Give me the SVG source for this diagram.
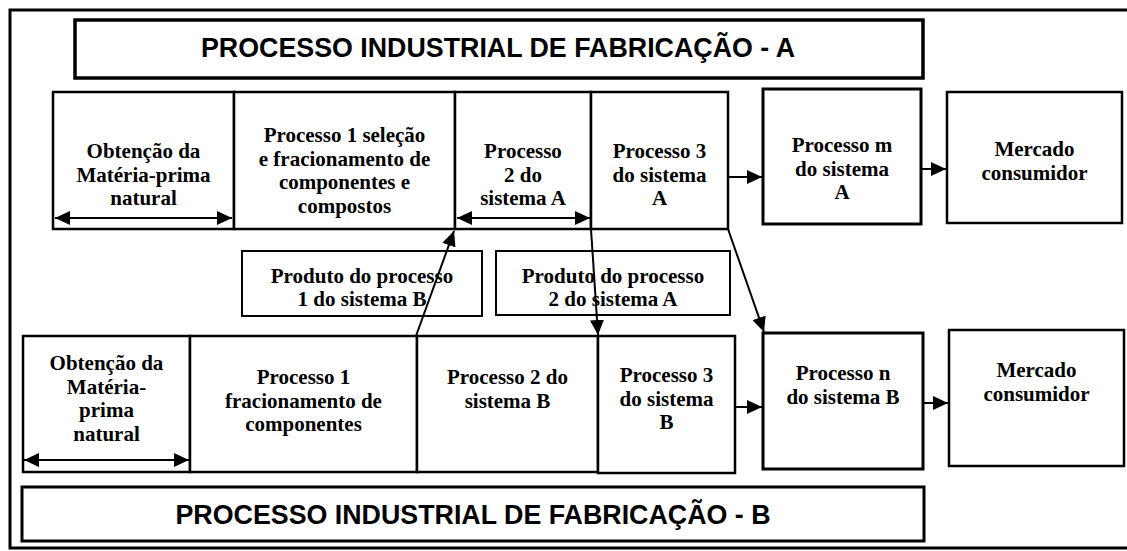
<svg xmlns="http://www.w3.org/2000/svg" width="1127" height="551" viewBox="0 0 1127 551">
<style>
  .bx { fill: #fff; stroke: #000; stroke-width: 2.5; }
  .pb { fill: #fff; stroke: #000; stroke-width: 2; }
  .tb { fill: #fff; stroke: #000; stroke-width: 3.5; }
  .n { font-family: "Liberation Serif", "Times New Roman", serif; font-weight: bold; font-size: 21px; text-anchor: middle; fill: #000; }
  .t { font-family: "Liberation Sans", Arial, sans-serif; font-weight: bold; font-size: 26.8px; text-anchor: middle; fill: #000; }
  .c { fill: none; stroke: #000; stroke-width: 2; }
</style>
<defs>
  <marker id="ah" viewBox="0 0 15 14" refX="15" refY="7" markerWidth="15" markerHeight="14" markerUnits="userSpaceOnUse" orient="auto-start-reverse">
    <path d="M0,0 L15,7 L0,14 z" fill="#000"/>
  </marker>
</defs>
<rect x="0" y="0" width="1127" height="551" fill="#fff"/>
<rect id="frame" x="10" y="10" width="1125" height="538" fill="none" stroke="#000" stroke-width="3"/>

<g id="titleA">
  <rect class="tb" x="75" y="20" width="848" height="58"/>
  <text class="t" x="498" y="57">PROCESSO INDUSTRIAL DE FABRICAÇÃO - A</text>
</g>
<g id="titleB">
  <rect class="tb" x="22" y="487" width="902" height="54" style="stroke-width:3"/>
  <text class="t" x="473" y="524">PROCESSO INDUSTRIAL DE FABRICAÇÃO - B</text>
</g>

<g id="a-obtencao">
  <rect class="bx" x="53" y="92" width="181" height="137"/>
  <text class="n"><tspan x="143.5" y="158">Obtenção da</tspan><tspan x="143.5" y="181.5">Matéria-prima</tspan><tspan x="143.5" y="205">natural</tspan></text>
</g>
<g id="a-processo1">
  <rect class="bx" x="234" y="92" width="221" height="137"/>
  <text class="n"><tspan x="344.5" y="142">Processo 1 seleção</tspan><tspan x="344.5" y="165.5">e fracionamento de</tspan><tspan x="344.5" y="189">componentes e</tspan><tspan x="344.5" y="212.5">compostos</tspan></text>
</g>
<g id="a-processo2">
  <rect class="bx" x="455" y="92" width="136" height="137"/>
  <text class="n"><tspan x="523" y="158">Processo</tspan><tspan x="523" y="181.5">2 do</tspan><tspan x="523" y="205">sistema A</tspan></text>
</g>
<g id="a-processo3">
  <rect class="bx" x="591" y="92" width="137" height="137"/>
  <text class="n"><tspan x="659.5" y="158">Processo 3</tspan><tspan x="659.5" y="181.5">do sistema</tspan><tspan x="659.5" y="205">A</tspan></text>
</g>
<g id="a-processom">
  <rect class="bx" x="763" y="89" width="158" height="135" style="stroke-width:3"/>
  <text class="n"><tspan x="842" y="152">Processo m</tspan><tspan x="842" y="175.5">do sistema</tspan><tspan x="842" y="199">A</tspan></text>
</g>
<g id="a-mercado">
  <rect class="bx" x="947" y="92" width="175" height="131"/>
  <text class="n"><tspan x="1034.5" y="156">Mercado</tspan><tspan x="1034.5" y="179.5">consumidor</tspan></text>
</g>

<g id="produto1">
  <rect class="pb" x="242" y="251" width="240" height="65"/>
  <text class="n"><tspan x="362" y="283">Produto do processo</tspan><tspan x="362" y="306">1 do sistema B</tspan></text>
</g>
<g id="produto2">
  <rect class="pb" x="496" y="251" width="234" height="64"/>
  <text class="n"><tspan x="613" y="283">Produto do processo</tspan><tspan x="613" y="306">2 do sistema A</tspan></text>
</g>

<g id="b-obtencao">
  <rect class="bx" x="23" y="336" width="167" height="136"/>
  <text class="n"><tspan x="106.5" y="370">Obtenção da</tspan><tspan x="106.5" y="393.5">Matéria-</tspan><tspan x="106.5" y="417">prima</tspan><tspan x="106.5" y="440.5">natural</tspan></text>
</g>
<g id="b-processo1">
  <rect class="bx" x="190" y="336" width="227" height="136"/>
  <text class="n"><tspan x="303.5" y="384">Processo 1</tspan><tspan x="303.5" y="407.5">fracionamento de</tspan><tspan x="303.5" y="431">componentes</tspan></text>
</g>
<g id="b-processo2">
  <rect class="bx" x="417" y="336" width="181" height="136"/>
  <text class="n"><tspan x="507.5" y="384">Processo 2 do</tspan><tspan x="507.5" y="407.5">sistema B</tspan></text>
</g>
<g id="b-processo3">
  <rect class="bx" x="598" y="336" width="137" height="137"/>
  <text class="n"><tspan x="666.5" y="382">Processo 3</tspan><tspan x="666.5" y="405.5">do sistema</tspan><tspan x="666.5" y="429">B</tspan></text>
</g>
<g id="b-processon">
  <rect class="bx" x="763" y="333" width="160" height="136" style="stroke-width:3"/>
  <text class="n"><tspan x="843" y="380">Processo n</tspan><tspan x="843" y="403.5">do sistema B</tspan></text>
</g>
<g id="b-mercado">
  <rect class="bx" x="949" y="330" width="175" height="136"/>
  <text class="n"><tspan x="1036.5" y="377">Mercado</tspan><tspan x="1036.5" y="400.5">consumidor</tspan></text>
</g>

<g id="connectors">
  <line class="c" x1="55" y1="218" x2="232" y2="218" marker-start="url(#ah)" marker-end="url(#ah)"/>
  <line class="c" x1="457" y1="218" x2="590" y2="218" marker-start="url(#ah)" marker-end="url(#ah)"/>
  <line class="c" x1="24" y1="460" x2="189" y2="460" marker-start="url(#ah)" marker-end="url(#ah)"/>
  <line class="c" x1="729" y1="177" x2="762" y2="177" marker-end="url(#ah)"/>
  <line class="c" x1="922" y1="169" x2="946" y2="169" marker-end="url(#ah)"/>
  <line class="c" x1="736" y1="407" x2="762" y2="407" marker-end="url(#ah)"/>
  <line class="c" x1="924" y1="403" x2="948" y2="403" marker-end="url(#ah)"/>
  <line class="c" x1="416" y1="336" x2="454" y2="231" marker-end="url(#ah)"/>
  <line class="c" x1="591" y1="229" x2="598" y2="335" marker-end="url(#ah)"/>
  <line class="c" x1="728" y1="229" x2="764" y2="332" marker-end="url(#ah)"/>
</g>
</svg>
